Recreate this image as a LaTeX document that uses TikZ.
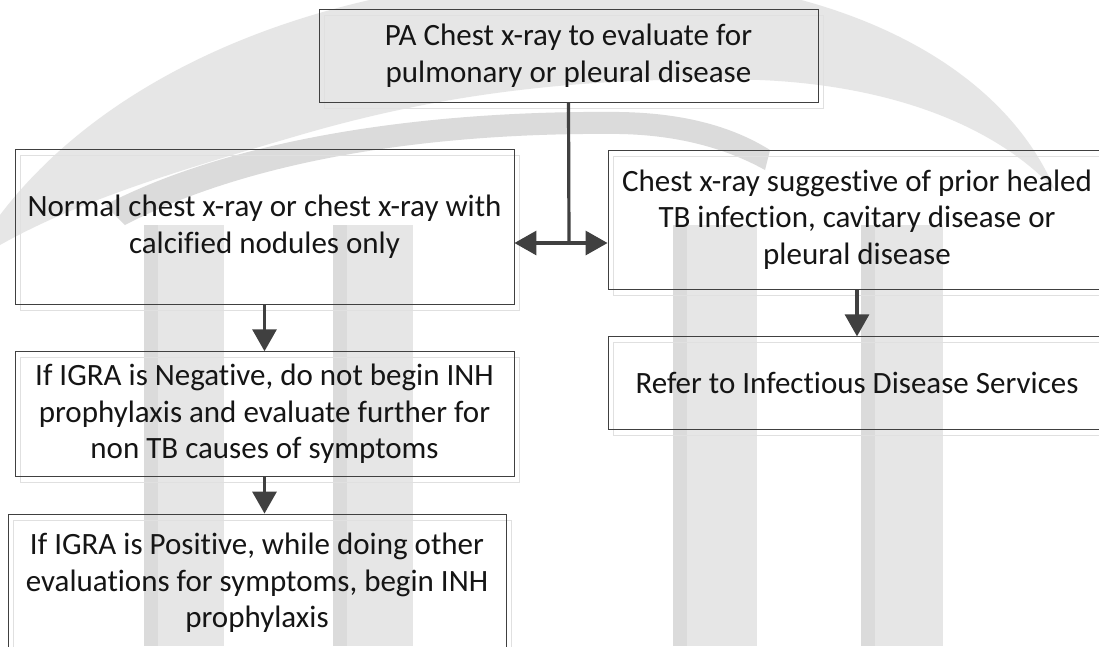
\documentclass[tikz,border=0pt]{standalone}
\usepackage{fontspec}
\setmainfont{Carlito}[Ligatures={NoCommon}]
\usetikzlibrary{arrows.meta,shadows}
\definecolor{wm}{HTML}{E6E6E6}
\definecolor{wmd}{HTML}{DBDBDB}
\definecolor{edgec}{HTML}{404040}
\definecolor{txtc}{HTML}{151515}
\tikzset{
  box/.style={draw=edgec, line width=0.9pt, rectangle, inner sep=0pt, align=center,
    text=txtc, font=\fontsize{31}{36.5}\selectfont,
    drop shadow={shadow xshift=5pt, shadow yshift=-6pt, fill=none, draw=black!12, opacity=1}},
  conn/.style={draw=edgec, line width=3.2pt, -{Triangle[length=22pt,width=24pt]}},
  wmcol/.style={fill=wm, draw=none},
  wmstrip/.style={fill=wmd, draw=none}
}
\begin{document}
\begin{tikzpicture}[x=1pt,y=-1pt]
\useasboundingbox (0,0) rectangle (1099,646);
\fill[white] (0,0) rectangle (1099,646);
% watermark
\fill[wm] (0,215) .. controls (110,70) and (330,-25) .. (600,-25)
  .. controls (830,-25) and (1000,60) .. (1055,190)
  .. controls (990,120) and (880,85) .. (760,80)
  .. controls (560,75) and (420,100) .. (300,135)
  .. controls (180,170) and (80,200) .. (0,245) -- cycle;
\fill[wmd] (105,205) .. controls (230,140) and (420,110) .. (620,112)
  .. controls (680,113) and (730,125) .. (770,150)
  -- (765,170) .. controls (720,145) and (670,135) .. (620,134)
  .. controls (430,132) and (250,160) .. (125,225) -- cycle;
\foreach \x/\w in {144/80,333/80,673/84,861/82}{
  \fill[wmcol] (\x,225) rectangle ++(\w,421);
  \fill[wmstrip] (\x,225) rectangle ++(14,421);
}
% nodes
\node[box, minimum width=499pt, minimum height=93pt] (top) at (568.5,55.5)
  {PA Chest x-ray to evaluate for\\pulmonary or pleural disease};
\node[box, minimum width=499pt, minimum height=155pt] (normal) at (264.5,226.5)
  {Normal chest x-ray or chest x-ray with\\calcified nodules only};
\node[box, minimum width=499pt, minimum height=125pt] (neg) at (264.5,414.2)
  {If IGRA is Negative, do not begin INH\\prophylaxis and evaluate further for\\non TB causes of symptoms};
\node[box, minimum width=498pt, minimum height=138pt] (pos) at (257,583)
  {If IGRA is Positive, while doing other\\evaluations for symptoms, begin INH\\prophylaxis};
\node[box, minimum width=498pt, minimum height=139pt] (prior) at (857,219.5)
  {Chest x-ray suggestive of prior healed\\TB infection, cavitary disease or\\pleural disease};
\node[box, minimum width=498pt, minimum height=93pt] (refer) at (857,383.3)
  {Refer to Infectious Disease Services};
% connectors
\coordinate (j) at (569,243);
\draw[draw=edgec, line width=3.2pt] (top.south) -- (j);
\draw[conn] (j) -- (j -| normal.east);
\draw[conn] (j) -- (j -| prior.west);
\draw[conn] (normal.south) -- (neg.north);
\draw[conn] (neg.south) -- (neg.south |- pos.north);
\draw[conn] (prior.south) -- (refer.north);
\end{tikzpicture}
\end{document}
